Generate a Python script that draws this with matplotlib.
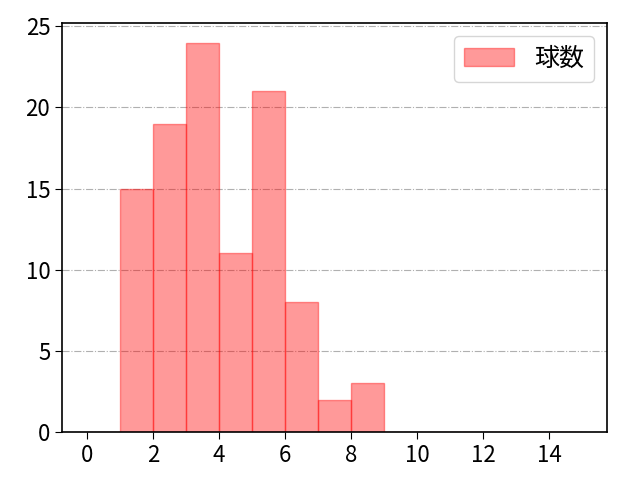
import matplotlib
matplotlib.use("Agg")
import matplotlib.pyplot as plt
import numpy as np

plt.rcParams['font.family'] = ['Noto Sans CJK JP', 'DejaVu Sans']

bin_edges = list(range(0, 16))
counts = [0, 15, 19, 24, 11, 21, 8, 2, 3, 0, 0, 0, 0, 0, 0]
label = "球数"

fig, ax = plt.subplots(figsize=(6.4, 4.8), dpi=100)
fig.subplots_adjust(left=0.097, right=0.948, top=0.952, bottom=0.1)

ax.bar(bin_edges[:-1], counts, width=1, align='edge', color='red', alpha=0.4,
       edgecolor='red', linewidth=1, label=label)
ax.grid(axis='y', linestyle='-.', color='#b0b0b0', linewidth=0.8)
ax.set_axisbelow(True)
ax.set_xticks(range(0, 16, 2))
ax.tick_params(labelsize=16, length=5)
for s in ax.spines.values():
    s.set_linewidth(1.2)
ax.legend(loc='upper right', fontsize=18)

fig.savefig("out.png", dpi=100)
